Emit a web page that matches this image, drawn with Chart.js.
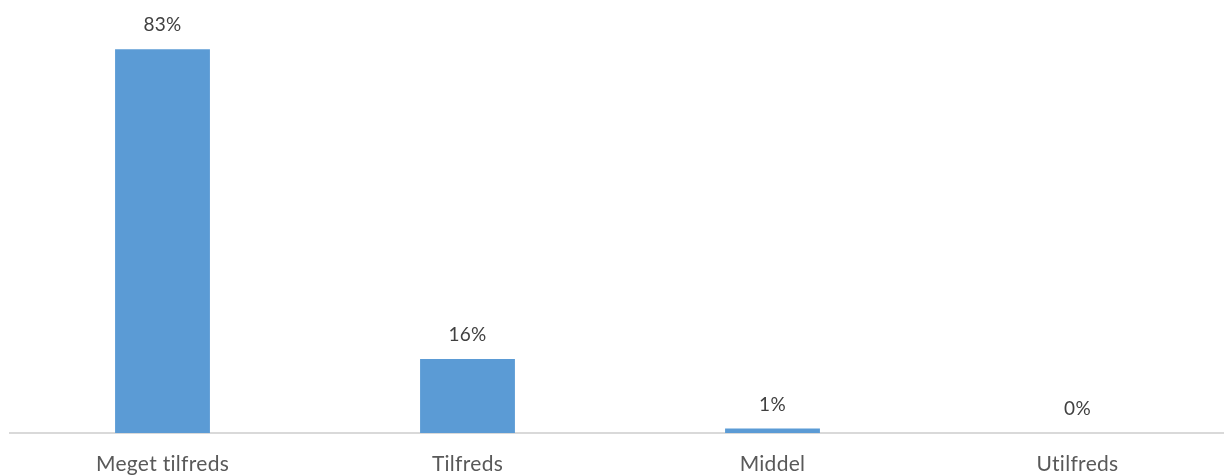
<!DOCTYPE html>
<html>
<head>
<meta charset="utf-8">
<script src="https://cdn.jsdelivr.net/npm/chart.js@4.4.0/dist/chart.umd.min.js"></script>
<style>
  html, body { margin: 0; padding: 0; background: #fff; overflow: hidden; }
  #wrap { position: absolute; left: 0; top: 0; width: 1240px; height: 475px; }
</style>
</head>
<body>
<div id="wrap"><canvas id="myChart" width="1240" height="475"></canvas></div>
<script>
var categories = ["Meget tilfreds", "Tilfreds", "Middel", "Utilfreds"];
var values = [83, 16, 1, 0];

// value labels above the bars, and no "ti" ligature
var labelPlugin = {
  id: 'valueLabels',
  beforeDraw: function (chart) {
    chart.ctx.letterSpacing = '0.3px';
  },
  afterDatasetsDraw: function (chart) {
    var c = chart.ctx;
    var meta = chart.getDatasetMeta(0);
    c.save();
    c.font = '19px Lato, sans-serif';
    c.fillStyle = '#404040';
    c.textAlign = 'center';
    c.textBaseline = 'middle';
    meta.data.forEach(function (bar, i) {
      c.fillText(values[i] + '%', bar.x, bar.y - 24);
    });
    c.restore();
  }
};

var ctx = document.getElementById('myChart').getContext('2d');
var chart = new Chart(ctx, {
  type: 'bar',
  data: {
    labels: categories,
    datasets: [{
      data: values,
      backgroundColor: '#5B9BD5',
      categoryPercentage: 1,
      barPercentage: 0.311
    }]
  },
  options: {
    responsive: false,
    animation: false,
    layout: { padding: { top: 17, left: 10, right: 10, bottom: 0 } },
    plugins: { legend: { display: false }, tooltip: { enabled: false } },
    scales: {
      y: { display: false, min: 0, max: 90 },
      x: {
        grid: { display: false, drawTicks: false },
        border: { display: true, color: '#d9d9d9', width: 2 },
        ticks: {
          color: '#595959',
          font: { family: 'Lato, sans-serif', size: 21 },
          padding: 19,
          maxRotation: 0
        },
        afterFit: function (scale) { scale.height = 42; }
      }
    }
  },
  plugins: [labelPlugin]
});
</script>
</body>
</html>
